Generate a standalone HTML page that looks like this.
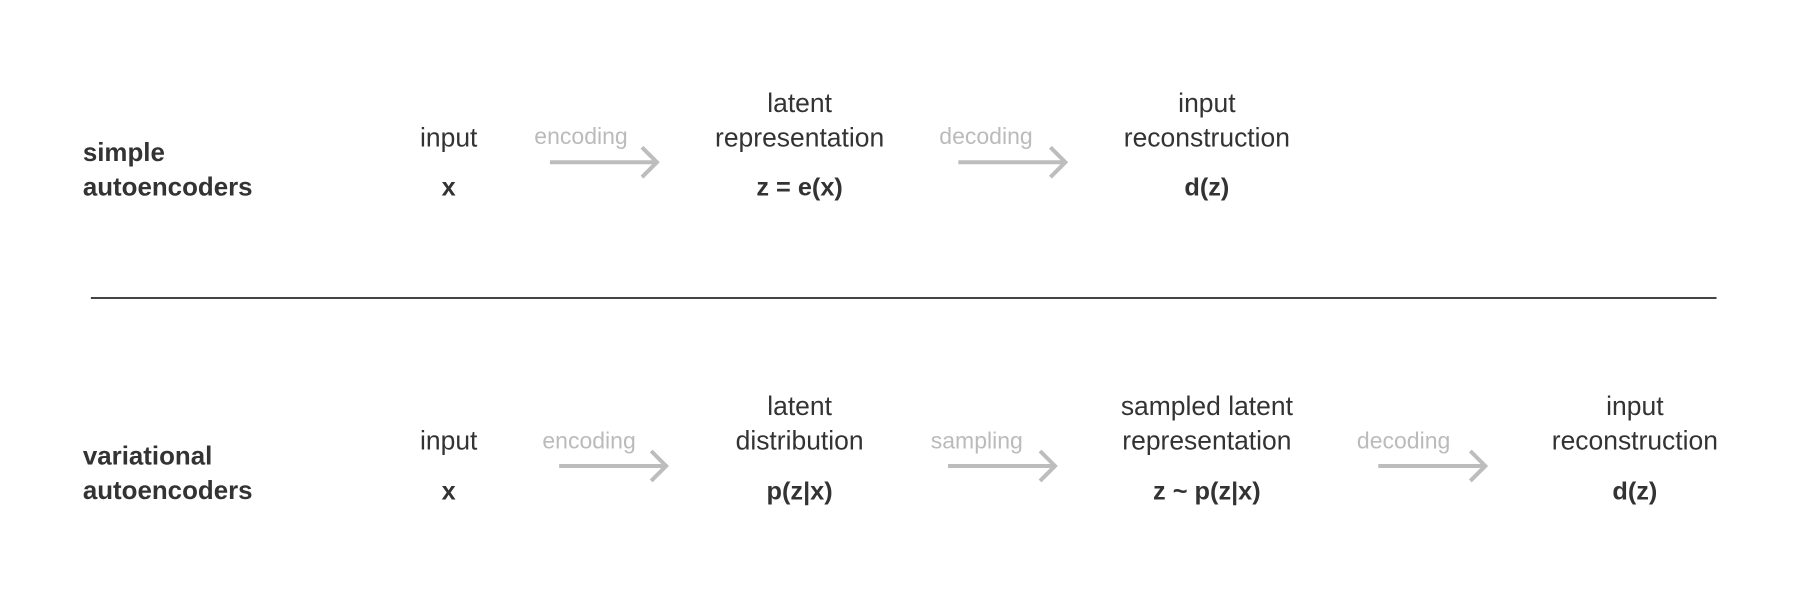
<!DOCTYPE html>
<html><head><meta charset="utf-8"><style>
html,body{margin:0;padding:0;background:#fff;}
#wrap{position:relative;width:1804px;height:596px;overflow:hidden;background:#fff;}
#s{position:absolute;left:0;top:0;width:1568px;height:518px;transform-origin:0 0;transform:scale(1.1505);font-family:"Liberation Sans",sans-serif;}
.t{position:absolute;transform:translate(-50%,-50%);white-space:nowrap;color:#333;font-size:23px;line-height:1;}
.b{font-weight:bold;font-size:22px;}
.g{color:#bbbbbc;font-size:20px;}
.l{position:absolute;transform:translateY(-50%);white-space:nowrap;color:#333;font-size:22.5px;font-weight:bold;line-height:1;}
svg{position:absolute;left:0;top:0;}
</style></head><body><div id="wrap"><div id="s">
<svg width="1568" height="518">
<g stroke="#bdbdbe" stroke-width="3.5" fill="none">
<path d="M478 141H571M558 128L571 141L558 154"/>
<path d="M833 141H926M913 128L926 141L913 154"/>
<path d="M486 405H579M566 392L579 405L566 418"/>
<path d="M824 405H917M904 392L917 405L904 418"/>
<path d="M1198 405H1291M1278 392L1291 405L1278 418"/>
</g>
<line x1="79" y1="259" x2="1492" y2="259" stroke="#444" stroke-width="1.8"/>
</svg>
<div class="l" style="left:72px;top:133px">simple</div>
<div class="l" style="left:72px;top:163px">autoencoders</div>
<div class="t" style="left:390px;top:120px">input</div>
<div class="t b" style="left:390px;top:163px">x</div>
<div class="t g" style="left:505px;top:119px">encoding</div>
<div class="t" style="left:695px;top:90px">latent</div>
<div class="t" style="left:695px;top:120px">representation</div>
<div class="t b" style="left:695px;top:163px">z = e(x)</div>
<div class="t g" style="left:857px;top:119px">decoding</div>
<div class="t" style="left:1049px;top:90px">input</div>
<div class="t" style="left:1049px;top:120px">reconstruction</div>
<div class="t b" style="left:1049px;top:163px">d(z)</div>

<div class="l" style="left:72px;top:397px">variational</div>
<div class="l" style="left:72px;top:427px">autoencoders</div>
<div class="t" style="left:390px;top:383px">input</div>
<div class="t b" style="left:390px;top:427px">x</div>
<div class="t g" style="left:512px;top:384px">encoding</div>
<div class="t" style="left:695px;top:353px">latent</div>
<div class="t" style="left:695px;top:383px">distribution</div>
<div class="t b" style="left:695px;top:427px">p(z|x)</div>
<div class="t g" style="left:849px;top:384px">sampling</div>
<div class="t" style="left:1049px;top:353px">sampled latent</div>
<div class="t" style="left:1049px;top:383px">representation</div>
<div class="t b" style="left:1049px;top:427px">z ~ p(z|x)</div>
<div class="t g" style="left:1220px;top:384px">decoding</div>
<div class="t" style="left:1421px;top:353px">input</div>
<div class="t" style="left:1421px;top:383px">reconstruction</div>
<div class="t b" style="left:1421px;top:427px">d(z)</div>
</div></div></body></html>
